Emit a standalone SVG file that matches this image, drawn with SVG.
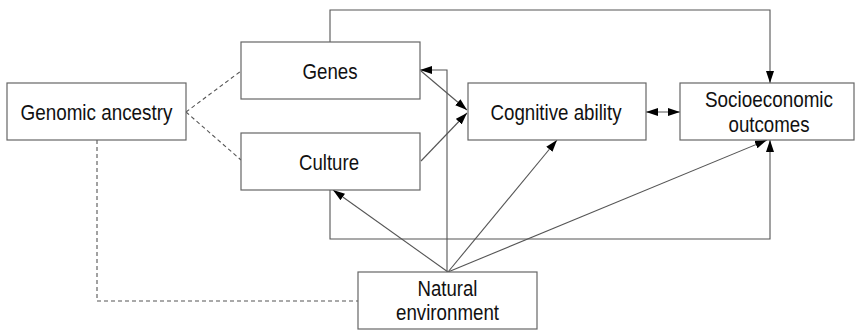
<svg xmlns="http://www.w3.org/2000/svg" width="855" height="330" viewBox="0 0 855 330">
<defs>
<style>
.box{fill:#fff;stroke:#666;stroke-width:1.2}
.lbl{font-family:"Liberation Sans",Arial,sans-serif;font-size:22px;fill:#111;text-anchor:middle}
.ln{fill:none;stroke:#555;stroke-width:1.1}
.dash{fill:none;stroke:#555;stroke-width:1.1;stroke-dasharray:4,3}
</style>
<marker id="ah" markerUnits="userSpaceOnUse" markerWidth="13" markerHeight="9" refX="12" refY="4" orient="auto-start-reverse" viewBox="0 0 13 9">
<path d="M0,0 L12,4 L0,8 z" fill="#000"/>
</marker>
</defs>
<rect width="855" height="330" fill="#fff"/>
<g id="connectors">
<path class="dash" d="M186,112 L241,71"/>
<path class="dash" d="M186,112 L241,160"/>
<path class="dash" d="M97,140 L97,301 L358,301"/>
<path class="ln" d="M330,42 L330,10 L770,10 L770,83" marker-end="url(#ah)"/>
<path class="ln" d="M330,190 L330,239 L770,239 L770,140" marker-end="url(#ah)"/>
<path class="ln" d="M447,272 L447,70 L420,70" marker-end="url(#ah)"/>
<path class="ln" d="M421,71 L467,110" marker-end="url(#ah)"/>
<path class="ln" d="M421,161 L467,113" marker-end="url(#ah)"/>
<path class="ln" d="M646,112 L680,112" marker-start="url(#ah)" marker-end="url(#ah)"/>
<path class="ln" d="M448,272 L333,190" marker-end="url(#ah)"/>
<path class="ln" d="M448,272 L557,140" marker-end="url(#ah)"/>
<path class="ln" d="M448,272 L767,140" marker-end="url(#ah)"/>
</g>
<g id="genomic-ancestry">
<rect class="box" x="7" y="83" width="179" height="57"/>
<text class="lbl" x="96.5" y="119.5" textLength="152" lengthAdjust="spacingAndGlyphs">Genomic ancestry</text>
</g>
<g id="genes">
<rect class="box" x="241" y="42" width="179" height="57"/>
<text class="lbl" x="330" y="78.5" textLength="55" lengthAdjust="spacingAndGlyphs">Genes</text>
</g>
<g id="culture">
<rect class="box" x="241" y="133" width="179" height="57"/>
<text class="lbl" x="329" y="169.5" textLength="60" lengthAdjust="spacingAndGlyphs">Culture</text>
</g>
<g id="cognitive-ability">
<rect class="box" x="468" y="83" width="178" height="57"/>
<text class="lbl" x="556" y="119.5" textLength="131" lengthAdjust="spacingAndGlyphs">Cognitive ability</text>
</g>
<g id="socioeconomic-outcomes">
<rect class="box" x="680" y="83" width="174" height="57"/>
<text class="lbl" x="769" y="106.5" textLength="128" lengthAdjust="spacingAndGlyphs">Socioeconomic</text>
<text class="lbl" x="769" y="131.5" textLength="81" lengthAdjust="spacingAndGlyphs">outcomes</text>
</g>
<g id="natural-environment">
<rect class="box" x="358" y="272" width="179" height="57"/>
<text class="lbl" x="447.5" y="296" textLength="60" lengthAdjust="spacingAndGlyphs">Natural</text>
<text class="lbl" x="447.5" y="320" textLength="103" lengthAdjust="spacingAndGlyphs">environment</text>
</g>
</svg>
